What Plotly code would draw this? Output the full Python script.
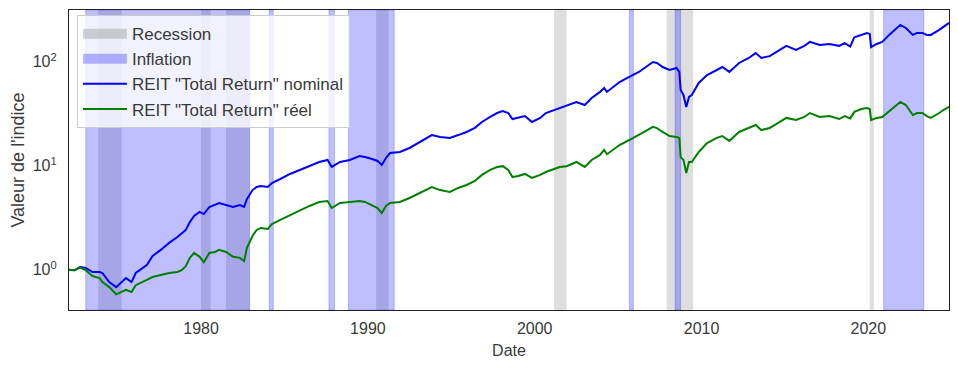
import plotly.graph_objects as go

# ---------------- data ----------------
dates = ["1972-02", "1972-06", "1972-10", "1973-02", "1973-07", "1973-12", "1974-02", "1974-07",
         "1974-12", "1975-04", "1975-07", "1975-11", "1976-02", "1976-10", "1977-02", "1977-08",
         "1978-02", "1978-08", "1978-11", "1979-02", "1979-05", "1979-08", "1979-12", "1980-03",
         "1980-07", "1980-11", "1981-02", "1981-07", "1981-12", "1982-05", "1982-08", "1982-10",
         "1983-02", "1983-05", "1983-08", "1984-01", "1984-04", "1984-10", "1985-05", "1985-12",
         "1986-07", "1987-02", "1987-08", "1987-11", "1988-05", "1988-12", "1989-07", "1989-11",
         "1990-04", "1990-08", "1990-11", "1991-02", "1991-05", "1991-12", "1992-07", "1993-02",
         "1993-11", "1994-05", "1994-12", "1995-06", "1995-12", "1996-06", "1996-11", "1997-05",
         "1997-10", "1998-02", "1998-06", "1998-09", "1999-01", "1999-06", "1999-11", "2000-05",
         "2000-09", "2001-03", "2001-07", "2001-12", "2002-07", "2003-01", "2003-06", "2003-12",
         "2004-03", "2004-05", "2005-02", "2005-09", "2006-04", "2006-10", "2007-02", "2007-05",
         "2007-09", "2008-02", "2008-07", "2008-09", "2008-10", "2008-12", "2009-02", "2009-04",
         "2009-06", "2009-11", "2010-05", "2010-12", "2011-04", "2011-09", "2012-04", "2012-11",
         "2013-04", "2013-08", "2014-02", "2014-07", "2015-02", "2015-09", "2016-03", "2016-07",
         "2017-02", "2017-09", "2018-04", "2018-08", "2018-12", "2019-03", "2019-08", "2019-12",
         "2020-02", "2020-03", "2020-07", "2020-11", "2021-04", "2021-08", "2021-12", "2022-04",
         "2022-09", "2022-12", "2023-04", "2023-07", "2023-10", "2024-04", "2024-07", "2024-11"]

reit_nominal = [1.00, 0.99, 1.06, 1.04, 0.95, 0.95, 0.93, 0.76,
                0.68, 0.76, 0.83, 0.76, 0.93, 1.11, 1.35, 1.55,
                1.81, 2.06, 2.25, 2.41, 2.87, 3.28, 3.59, 3.43,
                4.01, 4.19, 4.38, 4.19, 4.01, 4.19, 4.01, 4.77,
                5.83, 6.24, 6.38, 6.24, 6.80, 7.45, 8.33, 9.10,
                9.90, 10.86, 11.35, 9.72, 10.86, 11.35, 12.4, 12.13,
                11.6, 11.1, 10.16, 11.86, 13.24, 13.55, 14.8, 16.9,
                19.7, 18.9, 18.5, 19.7, 21.1, 23.1, 26.3, 29.4,
                32.1, 33.6, 32.1, 28.1, 28.8, 30.0, 26.3, 28.8,
                32.1, 34.3, 35.9, 37.5, 41.0, 38.3, 44.8, 51.2,
                55.9, 51.2, 63.8, 71.3, 79.7, 91.0, 99.4, 97.2,
                88.9, 83.2, 87.0, 79.7, 53.5, 47.9, 36.7, 45.8,
                47.9, 62.4, 74.5, 83.2, 88.9, 79.7, 97.2, 108.6,
                121.0, 108.6, 113.0, 124.0, 142.0, 130.0, 142.0, 155.0,
                145.0, 148.0, 142.0, 151.0, 140.0, 172.0, 181.0, 189.0,
                185.0, 138.0, 148.0, 155.0, 181.0, 202.0, 226.0, 211.0,
                181.0, 189.0, 189.0, 181.0, 181.0, 202.0, 216.0, 236.0]

reit_reel = [1.00, 0.99, 1.05, 0.99, 0.87, 0.83, 0.76, 0.68,
             0.58, 0.62, 0.64, 0.61, 0.71, 0.80, 0.85, 0.89,
             0.93, 0.95, 0.99, 1.08, 1.30, 1.45, 1.33, 1.18,
             1.45, 1.48, 1.55, 1.48, 1.33, 1.30, 1.21, 1.62,
             2.11, 2.41, 2.52, 2.46, 2.75, 3.01, 3.35, 3.67,
             4.10, 4.48, 4.58, 3.92, 4.38, 4.48, 4.58, 4.48,
             4.19, 3.92, 3.51, 4.10, 4.38, 4.48, 4.89, 5.46,
             6.24, 5.83, 5.59, 6.11, 6.52, 7.13, 8.15, 9.10,
             9.72, 9.90, 9.10, 7.78, 7.95, 8.33, 7.62, 8.15,
             8.69, 9.30, 9.72, 9.90, 10.86, 9.72, 11.35, 12.68,
             14.16, 12.9, 15.8, 17.66, 19.7, 22.0, 23.6, 23.0,
             21.1, 19.3, 18.9, 18.5, 12.1, 11.35, 8.51, 10.86,
             10.86, 13.55, 16.5, 18.5, 19.3, 17.3, 21.1, 23.05,
             24.6, 22.0, 23.05, 25.2, 28.8, 27.5, 29.4, 32.1,
             29.4, 30.0, 28.1, 30.0, 28.5, 32.9, 35.1, 35.9,
             35.1, 27.5, 28.8, 29.4, 33.6, 36.7, 41.0, 38.3,
             30.7, 32.1, 32.1, 30.0, 28.8, 32.1, 34.3, 36.7]

recession_start = ["1973-11-01", "1980-01-01", "1981-07-01", "1990-07-01", "2001-03-01", "2007-12-01", "2020-02-01"]
recession_end = ["1975-03-31", "1980-07-31", "1982-11-30", "1991-03-31", "2001-11-30", "2009-06-30", "2020-04-30"]

inflation_start = ["1973-02-01", "1984-02-01", "1987-09-01", "1988-11-01", "2005-09-01", "2008-06-01", "2020-12-01"]
inflation_end = ["1982-12-01", "1984-04-30", "1987-12-31", "1991-07-31", "2005-11-30", "2008-09-30", "2023-04-30"]

x_ticks = ["1980-01-01", "1990-01-01", "2000-01-01", "2010-01-01", "2020-01-01"]
x_tick_labels = ["1980", "1990", "2000", "2010", "2020"]
y_ticks = [1, 10, 100]
y_tick_labels = ["10<sup>0</sup>", "10<sup>1</sup>", "10<sup>2</sup>"]

# ---------------- styling ----------------
FONT = "Liberation Sans"
TXT = "#3a3a3a"
REC_FILL = "rgba(128,128,128,0.26)"
INF_FILL = "rgba(0,0,255,0.25)"

fig = go.Figure()

shapes = []
for s, e in zip(recession_start, recession_end):
    shapes.append(dict(type="rect", xref="x", yref="paper", x0=s, x1=e, y0=0, y1=1,
                       fillcolor=REC_FILL, line=dict(width=0), layer="below"))
for s, e in zip(inflation_start, inflation_end):
    shapes.append(dict(type="rect", xref="x", yref="paper", x0=s, x1=e, y0=0, y1=1,
                       fillcolor=INF_FILL, line=dict(width=1, color="rgba(0,0,255,0.22)"),
                       layer="below"))

# legend-only entries for shaded spans
fig.add_trace(go.Scatter(x=[None], y=[None], mode="lines", name="Recession",
                         line=dict(color="rgba(128,128,128,0.35)", width=12)))
fig.add_trace(go.Scatter(x=[None], y=[None], mode="lines", name="Inflation",
                         line=dict(color="rgba(0,0,255,0.28)", width=12)))

fig.add_trace(go.Scatter(x=dates, y=reit_nominal, mode="lines",
                         name='REIT "Total Return" nominal',
                         line=dict(color="#0000ff", width=2)))
fig.add_trace(go.Scatter(x=dates, y=reit_reel, mode="lines",
                         name='REIT "Total Return" réel',
                         line=dict(color="#008000", width=2)))

# the page body adds an 8px offset; the figure is sized to fit the 958x369 window
fig.update_layout(
    width=950, height=361,
    margin=dict(l=61, r=9, t=2, b=59, autoexpand=False),
    paper_bgcolor="white", plot_bgcolor="white",
    font=dict(family=FONT, size=16, color=TXT),
    shapes=shapes,
    showlegend=True,
    legend=dict(x=0.009, y=0.983, xanchor="left", yanchor="top",
                bgcolor="rgba(255,255,255,0.8)", bordercolor="#cccccc", borderwidth=1,
                itemwidth=44,
                font=dict(family=FONT, size=17, color=TXT), tracegroupgap=0),
    xaxis=dict(type="date", range=["1972-02-01", "2024-11-01"], automargin=False,
               tickvals=x_ticks, ticktext=x_tick_labels,
               showgrid=False, zeroline=False,
               showline=True, mirror=True, linecolor="#222222", linewidth=1.2,
               ticks="outside", ticklen=4, tickcolor="rgba(0,0,0,0)",
               tickfont=dict(size=16),
               title=dict(text="Date", standoff=8, font=dict(size=16))),
    yaxis=dict(type="log", range=[-0.3875, 2.497], automargin=False,
               tickvals=y_ticks, ticktext=y_tick_labels,
               showgrid=False, zeroline=False,
               showline=True, mirror=True, linecolor="#222222", linewidth=1.2,
               ticks="outside", ticklen=8, tickcolor="rgba(0,0,0,0)",
               tickfont=dict(size=16),
               title=dict(text="Valeur de l'indice", standoff=10, font=dict(size=18))),
)

fig.write_html("out.html")
